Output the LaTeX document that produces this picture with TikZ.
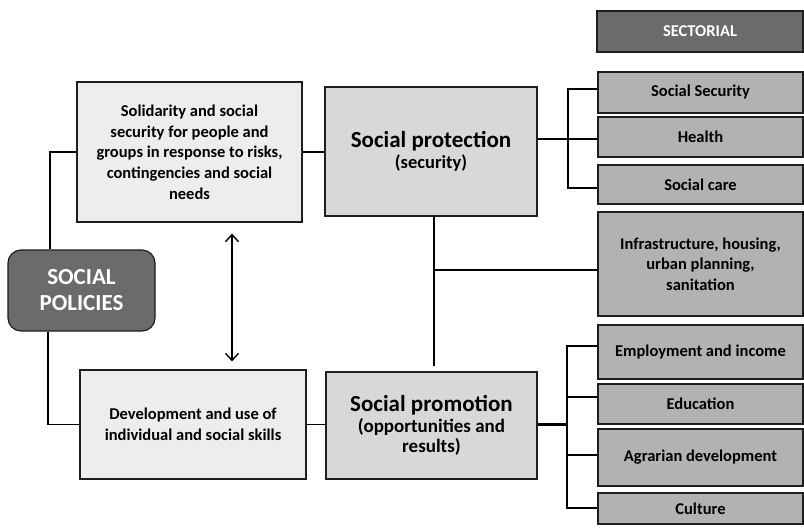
\documentclass[tikz,border=0pt]{standalone}
\usepackage{fontspec}
\setmainfont{Carlito}
\usetikzlibrary{calc,arrows.meta}
\definecolor{cdark}{HTML}{6B6B6B}
\definecolor{clight}{HTML}{EDEDED}
\definecolor{cmid}{HTML}{D8D8D8}
\definecolor{cside}{HTML}{B1B2B4}
\definecolor{cline}{HTML}{1E1E1E}
\tikzset{
  box/.style={draw=cline, line width=1.2pt, inner sep=0pt, align=center,
    font=\bfseries\fontsize{16.5}{20.7}\selectfont, text=black},
  lightbox/.style={box, fill=clight},
  midbox/.style={box, fill=cmid},
  sidebox/.style={box, fill=cside},
  darkbox/.style={box, fill=cdark, text=white},
  conn/.style={draw=black, line width=1.8pt},
}
\begin{document}
\begin{tikzpicture}[x=1pt,y=-1pt]
\useasboundingbox (0,0) rectangle (804,528);
% header
\node[darkbox, minimum width=206, minimum height=41,
  font=\bfseries\fontsize{16.5}{20}\selectfont] (sect) at (700,31.5) {SECTORIAL};
% left column
\node[lightbox, minimum width=225, minimum height=140] (sol) at (189.5,152)
  {Solidarity and social\\security for people and\\groups in response to risks,\\contingencies and social\\needs};
\node[darkbox, rounded corners=13pt, minimum width=147, minimum height=81,
  font=\bfseries\fontsize{23}{26}\selectfont] (pol) at (81.5,290.5) {SOCIAL\\POLICIES};
\node[lightbox, minimum width=226, minimum height=109] (dev) at (193,424.5)
  {Development and use of\\individual and social skills};
% middle column
\node[midbox, minimum width=212, minimum height=129] (prot) at (431,151.5)
  {{\fontsize{23}{24}\selectfont Social protection}\\{\fontsize{18.5}{22}\selectfont (security)}};
\node[midbox, minimum width=211, minimum height=107] (prom) at (431.5,425.5)
  {{\fontsize{23}{25}\selectfont Social promotion}\\{\fontsize{19}{24}\selectfont (opportunities and}\\{\fontsize{19}{24}\selectfont results)}};
% right column
\node[sidebox, minimum width=205, minimum height=41] (ss) at (700.5,92.5) {Social Security};
\node[sidebox, minimum width=205, minimum height=40] (health) at (700.5,137) {Health};
\node[sidebox, minimum width=205, minimum height=39] (care) at (700.5,184.5) {Social care};
\node[sidebox, minimum width=205, minimum height=104] (infra) at (700.5,264)
  {Infrastructure, housing,\\urban planning,\\sanitation};
\node[sidebox, minimum width=205, minimum height=54] (emp) at (700.5,352) {Employment and income};
\node[sidebox, minimum width=205, minimum height=40] (edu) at (700.5,404) {Education};
\node[sidebox, minimum width=205, minimum height=57] (agr) at (700.5,457.5) {Agrarian development};
\node[sidebox, minimum width=205, minimum height=31] (cult) at (700.5,508.5) {Culture};
% connectors: left
\draw[conn] ($(pol.north)+(-31.5,0)$) |- (sol.west);
\draw[conn] ($(pol.south)+(-33.5,0)$) |- (dev.west);
\draw[conn] (sol.east) -- (sol.east -| prot.west);
\draw[conn] (dev.east) -- (dev.east -| prom.west);
\draw[line width=1.4pt, {Straight Barb[length=7pt,width=13pt]}-{Straight Barb[length=7pt,width=13pt]}]
  ($(sol.south)+(42.5,11)$) -- ($(dev.north)+(39,-8)$);
% vertical protection-promotion
\draw[conn] ($(prot.south)+(3,0)$) coordinate (vs) -- ($(prom.north)+(2.5,-5)$);
\coordinate (j) at ($(vs)+(0,53)$);
\draw[conn] (j) -- (j -| infra.west);
% top bracket
\coordinate (tb1) at (568,89);
\coordinate (tb2) at (568,188);
\draw[conn] ($(prot.east)+(0,-12.5)$) coordinate (pe) -- (pe -| health.west);
\draw[conn] (tb1 -| ss.west) -- (tb1) -- (tb2) -- (tb2 -| care.west);
% bottom bracket
\coordinate (bb1) at (567,346);
\coordinate (bb2) at (567,508);
\draw[line width=3pt] ($(prom.east)+(0,-1.5)$) coordinate (qe) -- (qe -| bb1);
\draw[conn] (bb1 -| emp.west) -- (bb1) -- (bb2) -- (bb2 -| cult.west);
\coordinate (bb3) at (567,397);
\coordinate (bb4) at (567,455);
\draw[conn] (bb3) -- (bb3 -| edu.west);
\draw[conn] (bb4) -- (bb4 -| agr.west);
\end{tikzpicture}
\end{document}
